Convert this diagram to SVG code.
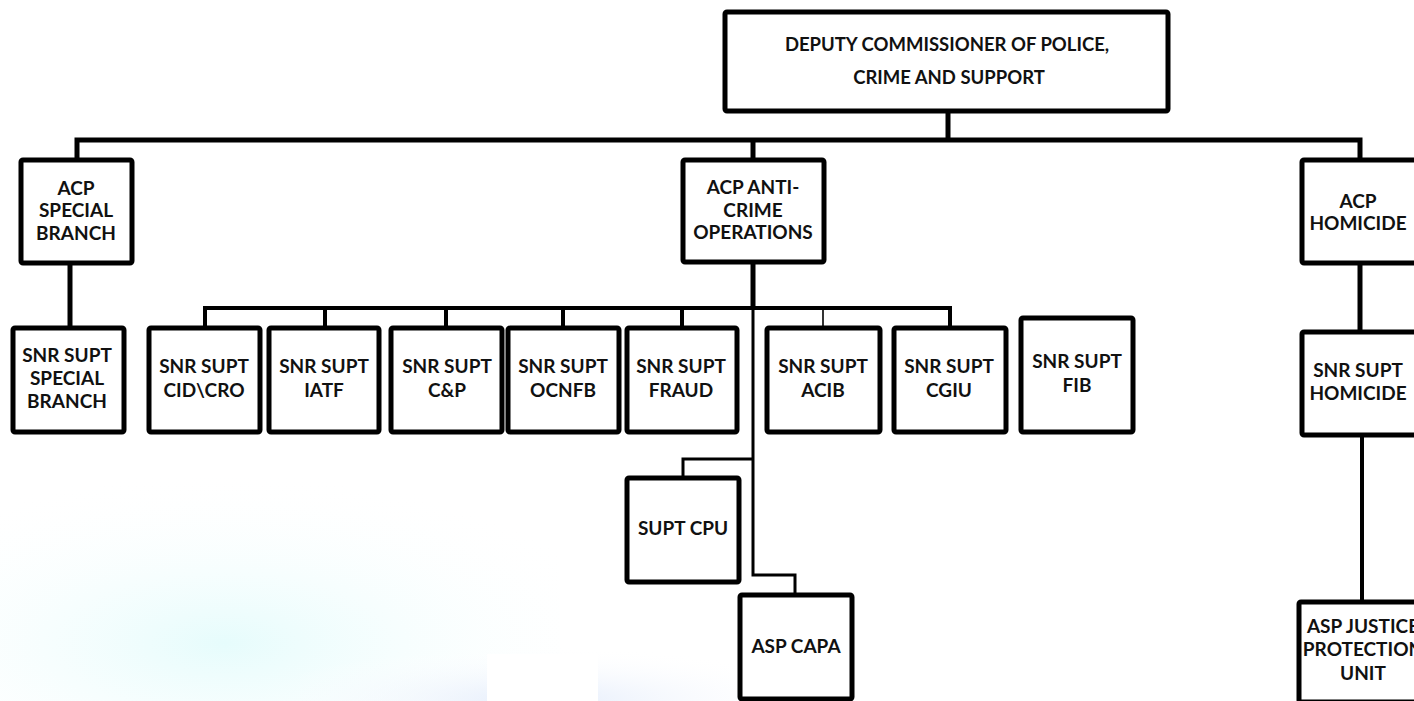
<svg xmlns="http://www.w3.org/2000/svg" width="1414" height="701" viewBox="0 0 1414 701">
  <style>
    .box { fill: #ffffff; stroke: #000000; stroke-width: 5; }
    .t { font-family: Lato, "Liberation Sans", sans-serif; font-weight: bold; font-size: 19px; fill: #111111; text-anchor: middle; }
    .title { font-size: 18.5px; }
    .c5 { fill: none; stroke: #000000; stroke-width: 5; }
    .c4 { fill: none; stroke: #000000; stroke-width: 4; }
    .c3 { fill: none; stroke: #000000; stroke-width: 3; }
    .c2 { fill: none; stroke: #000000; stroke-width: 1.6; }
  </style>
  <defs>
    <radialGradient id="bgc" cx="0.4" cy="0.75" r="0.75">
      <stop offset="0" stop-color="#e6fcfc"/>
      <stop offset="1" stop-color="#ffffff" stop-opacity="0"/>
    </radialGradient>
    <radialGradient id="bgb" cx="0.5" cy="1" r="0.6">
      <stop offset="0" stop-color="#e3ecfb"/>
      <stop offset="1" stop-color="#ffffff" stop-opacity="0"/>
    </radialGradient>
  </defs>
  <rect x="0" y="0" width="1414" height="701" fill="#ffffff"/>
  <rect x="0" y="470" width="560" height="231" fill="url(#bgc)"/>
  <rect x="300" y="610" width="480" height="91" fill="url(#bgb)"/>
  <rect x="487" y="654" width="111" height="47" fill="#ffffff"/>

  <g id="connectors">
    <path class="c5" d="M948,111 V140"/>
    <path class="c5" d="M77,160 V140 H1360 V160"/>
    <path class="c5" d="M753,140 V160"/>
    <path class="c5" d="M70,263 V328"/>
    <path class="c5" d="M753,262 V308"/>
    <path class="c4" d="M205,328 V308 H950 V328"/>
    <path class="c4" d="M325,308 V328"/>
    <path class="c4" d="M446,308 V328"/>
    <path class="c4" d="M563,308 V328"/>
    <path class="c4" d="M682,308 V328"/>
    <path class="c2" d="M823,308 V328"/>
    <path class="c3" d="M753,308 V575 H795 V595"/>
    <path class="c3" d="M753,459 H683 V478"/>
    <path class="c5" d="M1360,263 V332"/>
    <path class="c4" d="M1362,435 V602"/>
  </g>

  <g id="dcp">
    <rect class="box" x="725" y="12" width="443" height="99" rx="2"/>
    <text class="t title" x="947" y="51">DEPUTY COMMISSIONER OF POLICE,</text>
    <text class="t title" x="949" y="84">CRIME AND SUPPORT</text>
  </g>
  <g id="acp-special-branch">
    <rect class="box" x="21" y="160" width="111" height="103" rx="2"/>
    <text class="t" x="76" y="195">ACP</text>
    <text class="t" x="76" y="217">SPECIAL</text>
    <text class="t" x="76" y="240">BRANCH</text>
  </g>
  <g id="acp-anti-crime">
    <rect class="box" x="683" y="160" width="141" height="102" rx="2"/>
    <text class="t" x="753" y="194">ACP ANTI-</text>
    <text class="t" x="753" y="217">CRIME</text>
    <text class="t" x="753" y="239">OPERATIONS</text>
  </g>
  <g id="acp-homicide">
    <rect class="box" x="1302" y="160" width="116" height="103" rx="2"/>
    <text class="t" x="1358" y="208">ACP</text>
    <text class="t" x="1358" y="230">HOMICIDE</text>
  </g>
  <g id="snr-special-branch">
    <rect class="box" x="13" y="328" width="111" height="104" rx="2"/>
    <text class="t" x="67" y="362">SNR SUPT</text>
    <text class="t" x="67" y="385">SPECIAL</text>
    <text class="t" x="67" y="408">BRANCH</text>
  </g>
  <g id="snr-cid-cro">
    <rect class="box" x="149" y="328" width="111" height="104" rx="2"/>
    <text class="t" x="204" y="373">SNR SUPT</text>
    <text class="t" x="204" y="397">CID\CRO</text>
  </g>
  <g id="snr-iatf">
    <rect class="box" x="269" y="328" width="110" height="104" rx="2"/>
    <text class="t" x="324" y="373">SNR SUPT</text>
    <text class="t" x="324" y="397">IATF</text>
  </g>
  <g id="snr-cp">
    <rect class="box" x="391" y="328" width="111" height="104" rx="2"/>
    <text class="t" x="447" y="373">SNR SUPT</text>
    <text class="t" x="447" y="397">C&amp;P</text>
  </g>
  <g id="snr-ocnfb">
    <rect class="box" x="508" y="328" width="111" height="104" rx="2"/>
    <text class="t" x="563" y="373">SNR SUPT</text>
    <text class="t" x="563" y="397">OCNFB</text>
  </g>
  <g id="snr-fraud">
    <rect class="box" x="627" y="328" width="110" height="104" rx="2"/>
    <text class="t" x="681" y="373">SNR SUPT</text>
    <text class="t" x="681" y="397">FRAUD</text>
  </g>
  <g id="snr-acib">
    <rect class="box" x="767" y="328" width="113" height="104" rx="2"/>
    <text class="t" x="823" y="373">SNR SUPT</text>
    <text class="t" x="823" y="397">ACIB</text>
  </g>
  <g id="snr-cgiu">
    <rect class="box" x="894" y="328" width="112" height="104" rx="2"/>
    <text class="t" x="949" y="373">SNR SUPT</text>
    <text class="t" x="949" y="397">CGIU</text>
  </g>
  <g id="snr-fib">
    <rect class="box" x="1021" y="318" width="112" height="114" rx="2"/>
    <text class="t" x="1077" y="368">SNR SUPT</text>
    <text class="t" x="1077" y="392">FIB</text>
  </g>
  <g id="snr-homicide">
    <rect class="box" x="1302" y="332" width="116" height="103" rx="2"/>
    <text class="t" x="1358" y="377">SNR SUPT</text>
    <text class="t" x="1358" y="400">HOMICIDE</text>
  </g>
  <g id="supt-cpu">
    <rect class="box" x="627" y="478" width="112" height="104" rx="2"/>
    <text class="t" x="683" y="535">SUPT CPU</text>
  </g>
  <g id="asp-capa">
    <rect class="box" x="740" y="595" width="112" height="104" rx="2"/>
    <text class="t" x="796" y="653">ASP CAPA</text>
  </g>
  <g id="asp-justice">
    <rect class="box" x="1299" y="602" width="130" height="100" rx="2"/>
    <text class="t" x="1363" y="633">ASP JUSTICE</text>
    <text class="t" x="1363" y="656">PROTECTION</text>
    <text class="t" x="1363" y="680">UNIT</text>
  </g>
</svg>
